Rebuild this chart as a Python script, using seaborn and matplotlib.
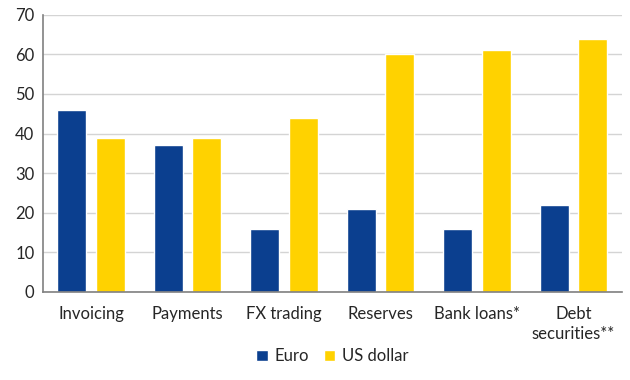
import pandas as pd
import matplotlib.pyplot as plt
import seaborn as sns

categories = ["Invoicing", "Payments", "FX trading", "Reserves", "Bank loans*", "Debt\nsecurities**"]
euro = [46, 37, 16, 21, 16, 22]
usd = [39, 39, 44, 60, 61, 64]
series = ["Euro", "US dollar"]

df = pd.DataFrame({
    "category": categories * 2,
    "value": euro + usd,
    "currency": [series[0]] * len(categories) + [series[1]] * len(categories),
})

sns.set_style("white")
plt.rcParams['font.family'] = ['Lato', 'DejaVu Sans']

fig = plt.figure(figsize=(6.3, 3.8), dpi=100)
ax = fig.add_axes([0.068, 0.232, 0.919, 0.729])
sns.barplot(data=df, x="category", y="value", hue="currency", order=categories,
            palette=["#0B3F8F", "#FFD200"], width=0.8, gap=0.25, ax=ax, saturation=1)

ax.set_ylim(0, 70)
ax.set_yticks(range(0, 71, 10))
ax.set_xlim(-0.5, len(categories) - 0.5)
ax.yaxis.grid(True, color="#D4D4D4", linewidth=1)
ax.set_axisbelow(True)
ax.set_xlabel("")
ax.set_ylabel("")
for s in ["top", "right"]:
    ax.spines[s].set_visible(False)
for s in ["left", "bottom"]:
    ax.spines[s].set_color("#808080")
    ax.spines[s].set_linewidth(1.2)
ax.tick_params(axis="y", length=0, labelsize=12, colors="#262626", pad=6)
ax.tick_params(axis="x", length=0, labelsize=12, colors="#262626", pad=10)
for lbl in ax.get_xticklabels():
    lbl.set_linespacing(1.35)

ax.legend(loc="upper center", bbox_to_anchor=(0.5, -0.15), ncol=2, frameon=False,
          fontsize=12, handlelength=0.7, handleheight=0.7, handletextpad=0.4, columnspacing=0.9)

fig.savefig("out.png", dpi=100)
